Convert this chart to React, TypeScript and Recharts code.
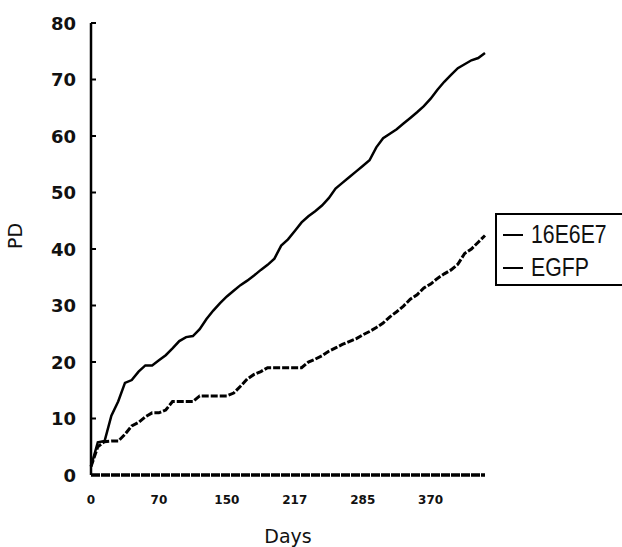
import { LineChart, Line, XAxis, YAxis } from 'recharts'

const days = [
  0, 7, 14, 21, 28, 35, 42, 49, 56, 63,
  70, 78, 86, 94, 102, 110, 118, 126, 134, 142,
  150, 157, 164, 170, 177, 184, 190, 197, 204, 210,
  217, 224, 231, 238, 244, 251, 258, 265, 271, 278,
  285, 293, 302, 310, 319, 327, 336, 344, 353, 361,
  370, 378, 387, 395, 404, 412, 421, 429, 437,
]

const pd16E6E7 = [
  1.5, 5.8, 6, 10.5, 13, 16.3, 16.8, 18.3, 19.4, 19.4,
  20.3, 21.2, 22.4, 23.7, 24.4, 24.6, 25.8, 27.6, 29.1, 30.4,
  31.6, 32.6, 33.6, 34.4, 35.3, 36.3, 37.2, 38.3, 40.6, 41.7,
  43.2, 44.7, 45.8, 46.7, 47.7, 49, 50.7, 51.7, 52.7, 53.7,
  54.7, 55.7, 58, 59.6, 60.4, 61.2, 62.2, 63.2, 64.2, 65.3,
  66.6, 68.2, 69.6, 70.8, 72, 72.7, 73.4, 73.8, 74.7,
]

const pdEGFP = [
  1.5, 5, 5.9, 6, 6, 7.2, 8.7, 9.3, 10.3, 11,
  11, 11.5, 13, 13, 13, 13, 14, 14, 14, 14,
  14, 14.5, 15.7, 17, 17.8, 18.3, 19, 19, 19, 19,
  19, 19, 20, 20.5, 21.1, 21.9, 22.5, 23.1, 23.6, 24.1,
  24.8, 25.4, 26.1, 26.9, 28, 28.9, 29.9, 31.1, 31.9, 33.1,
  33.8, 34.8, 35.6, 36.3, 37.3, 39.2, 40, 41.2, 42.4,
]

const seriesNames = ['16E6E7', 'EGFP']
const yTicks = [0, 10, 20, 30, 40, 50, 60, 70, 80]

const data = days.map((d, i) => ({ day: d, a: pd16E6E7[i], b: pdEGFP[i] }))

function YTick({ x, y, payload }: any) {
  return (
    <g>
      <line x1={x} x2={x + 5} y1={y} y2={y} stroke="#000" strokeWidth={2} />
      <text x={x - 15} y={y} textAnchor="end" dominantBaseline="central"
        fontFamily="DejaVu Sans" fontWeight="bold" fontSize={18} fill="#111">
        {payload.value}
      </text>
    </g>
  )
}

function XTick({ x, y, payload }: any) {
  return (
    <text x={x} y={y + 17} textAnchor="middle" dominantBaseline="central"
      fontFamily="DejaVu Sans" fontWeight="bold" fontSize={12} fill="#111">
      {payload.value}
    </text>
  )
}

// legend drawn as a plain box on top, like the scanned figure
function LegendBox() {
  return (
    <div style={{ position: 'absolute', left: 495, top: 213, border: '2px solid #000', width: 140, height: 73,
      padding: '3px 0 0 6px', boxSizing: 'border-box', background: '#fff' }}>
      {seriesNames.map(name => (
        <div key={name} style={{ display: 'flex', alignItems: 'center', height: 33 }}>
          <span style={{ display: 'inline-block', width: 20, height: 2, background: '#000', marginRight: 8 }} />
          <span style={{ display: 'inline-block', transform: 'scaleX(0.85)', transformOrigin: 'left center',
            fontFamily: 'Liberation Sans', fontSize: 25, color: '#111', whiteSpace: 'nowrap' }}>
            {name}
          </span>
        </div>
      ))}
    </div>
  )
}

export default function App() {
  return (
    <div style={{ width: 622, height: 547, background: '#fff', overflow: 'hidden', position: 'relative' }}>
      <style>{`body{margin:0}`}</style>
      <LineChart width={622} height={547} data={data} margin={{ top: 23, right: 137, bottom: 0, left: 0 }}>
        <XAxis
          dataKey="day"
          interval={9}
          tickLine={false}
          height={72}
          axisLine={{ stroke: '#000', strokeWidth: 3.5, strokeDasharray: '9 1' }}
          tick={<XTick />}
          label={{ value: 'Days', position: 'insideBottom', offset: 4, fontFamily: 'DejaVu Sans', fontSize: 19, fill: '#111' }}
        />
        <YAxis
          domain={[0, 80]}
          ticks={yTicks}
          width={91}
          tickSize={0}
          tickMargin={0}
          tickLine={false}
          axisLine={{ stroke: '#000', strokeWidth: 2.5 }}
          tick={<YTick />}
          label={{
            content: () => (
              <text x={15} y={236} transform="rotate(-90 15 236)" textAnchor="middle" dominantBaseline="central"
                fontFamily="DejaVu Sans" fontSize={19} fill="#111">PD</text>
            ),
          }}
        />
        <Line dataKey="a" name={seriesNames[0]} type="linear" stroke="#000" strokeWidth={2.5} dot={false} isAnimationActive={false} />
        <Line dataKey="b" name={seriesNames[1]} type="linear" stroke="#000" strokeWidth={3} strokeDasharray="7 2" dot={false} isAnimationActive={false} />
      </LineChart>
      <LegendBox />
    </div>
  )
}
